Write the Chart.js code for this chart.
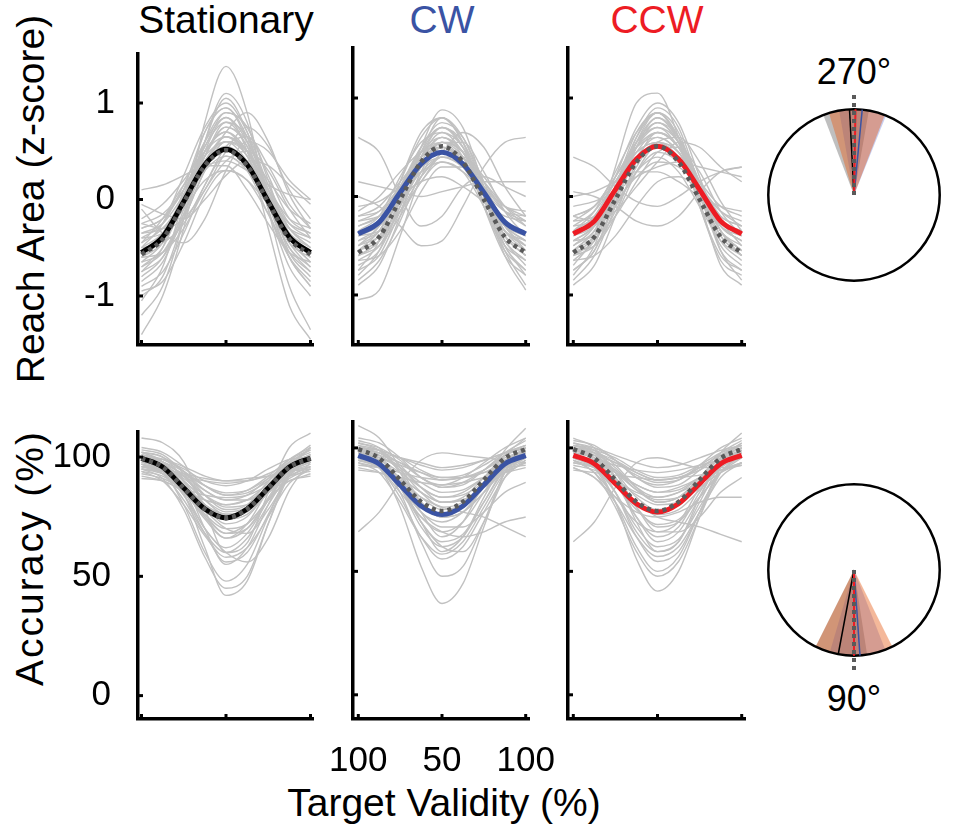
<!DOCTYPE html>
<html>
<head>
<meta charset="utf-8">
<title>Reach area and accuracy by target validity</title>
<script src="https://cdn.jsdelivr.net/npm/chart.js@4.4.0/dist/chart.umd.min.js"></script>
<style>
  body { margin: 0; background: #fff; }
  #fig { position: relative; width: 954px; height: 839px; overflow: hidden;
         font-family: "Liberation Sans", Arial, sans-serif; }
  .panel { position: absolute; }
  .lbl { position: absolute; transform: translate(-50%, -50%); line-height: 1;
         white-space: nowrap; color: #000; }
  .rot { transform: translate(-50%, -50%) rotate(-90deg); }
</style>
</head>
<body>
<div id="fig">
  <div class="lbl" style="left:226px;top:19px;font-size:39px">Stationary</div>
  <div class="lbl" style="left:442px;top:19px;font-size:39px;color:#3a53a4">CW</div>
  <div class="lbl" style="left:657px;top:19px;font-size:39px;color:#ed1c24">CCW</div>
  <div class="lbl rot" style="left:30px;top:199px;font-size:39px">Reach Area (z-score)</div>
  <div class="lbl rot" style="left:29px;top:558px;font-size:39px;letter-spacing:2px">Accuracy (%)</div>
  <div class="lbl" style="left:444px;top:802px;font-size:39px">Target Validity (%)</div>
  <div class="lbl" style="left:854px;top:72px;font-size:36px">270°</div>
  <div class="lbl" style="left:854px;top:699px;font-size:36px">90°</div>
</div>
<script>
/* ================= DATA ================= */
// x positions along the validity cycle (100 -> 50 -> 100)
const xPoints = [0, 0.125, 0.25, 0.375, 0.5, 0.625, 0.75, 0.875, 1];
const validityTickPos = [0, 0.5, 1];
const validityTicks = ["100", "50", "100"];
const reachTicks = [-1, 0, 1];
const accTicks = [0, 50, 100];

// group fits (z-score)
const reachOverall    = [-0.57, -0.41, -0.03, 0.35, 0.51, 0.35, -0.03, -0.41, -0.57];
const reachStationary = [-0.55, -0.39, -0.02, 0.36, 0.52, 0.36, -0.02, -0.39, -0.55];
const reachCW         = [-0.38, -0.26, 0.04, 0.33, 0.45, 0.33, 0.04, -0.26, -0.38];
const reachCCW        = [-0.38, -0.25, 0.07, 0.38, 0.51, 0.38, 0.07, -0.25, -0.38];

// group fits (accuracy %)
const accOverall    = [99.5, 95.8, 87, 78.2, 74.5, 78.2, 87, 95.8, 99.5];
const accStationary = [99.5, 95.8, 87, 78.2, 74.5, 78.2, 87, 95.8, 99.5];
const accCW         = [97, 93.5, 85, 76.5, 73, 76.5, 85, 93.5, 97];
const accCCW        = [97, 93.6, 85.5, 77.4, 74, 77.4, 85.5, 93.6, 97];

// individual fits, reach area
const reachStatSubjects = [
  [-0.55, -0.35, 0.05, 0.55, 0.80, 0.55, 0.05, -0.35, -0.55],
  [-0.80, -0.60, -0.10, 0.60, 1.05, 0.70, 0.00, -0.50, -0.75],
  [-0.30, -0.20, 0.10, 0.40, 0.55, 0.40, 0.10, -0.20, -0.30],
  [-1.20, -0.90, -0.20, 0.80, 1.38, 0.90, -0.10, -0.90, -1.35],
  [0.10, 0.15, 0.25, 0.35, 0.40, 0.30, 0.15, 0.05, 0.00],
  [-0.70, -0.50, 0.00, 0.60, 0.90, 0.75, 0.20, -0.40, -0.65],
  [-0.40, -0.35, -0.10, 0.20, 0.30, 0.20, -0.05, -0.30, -0.40],
  [-1.00, -0.80, -0.20, 0.50, 0.85, 0.50, -0.30, -1.10, -1.45],
  [-1.40, -1.00, -0.30, 0.60, 1.10, 0.80, 0.00, -0.60, -0.90],
  [-0.10, -0.35, -0.45, -0.20, 0.30, 0.60, 0.50, 0.20, 0.00],
  [-0.60, -0.55, -0.30, 0.10, 0.40, 0.50, 0.30, -0.10, -0.40],
  [-0.50, -0.25, 0.25, 0.75, 1.00, 0.70, 0.15, -0.30, -0.50],
  [-0.90, -0.75, -0.35, 0.15, 0.45, 0.30, -0.15, -0.60, -0.85],
  [-0.20, -0.05, 0.20, 0.50, 0.65, 0.50, 0.20, -0.10, -0.25],
  [-0.65, -0.55, -0.20, 0.30, 0.60, 0.50, 0.10, -0.35, -0.60],
  [-0.35, -0.30, -0.05, 0.35, 0.70, 0.90, 0.60, 0.05, -0.30],
  [-0.75, -0.50, 0.10, 0.70, 0.95, 0.60, -0.10, -0.70, -1.00],
  [-0.45, -0.20, 0.15, 0.35, 0.35, 0.10, -0.25, -0.55, -0.65],
  [-0.95, -0.85, -0.45, 0.05, 0.30, 0.20, -0.15, -0.55, -0.75],
  [-0.25, -0.30, -0.20, 0.10, 0.50, 0.75, 0.55, 0.10, -0.20],
  [-0.60, -0.40, 0.05, 0.50, 0.70, 0.45, 0.00, -0.40, -0.55],
  [-0.05, -0.15, -0.20, 0.00, 0.25, 0.40, 0.35, 0.15, -0.05],
  [-1.05, -0.70, 0.00, 0.70, 0.95, 0.65, 0.05, -0.55, -0.80],
  [-0.50, -0.45, -0.25, 0.15, 0.55, 0.65, 0.35, -0.05, -0.30],
  [-0.45, -0.30, 0.00, 0.40, 0.65, 0.45, 0.00, -0.35, -0.50],
  [-0.70, -0.55, -0.15, 0.35, 0.65, 0.50, 0.00, -0.45, -0.70],
  [-0.35, -0.25, 0.05, 0.45, 0.75, 0.60, 0.15, -0.25, -0.40],
  [-0.60, -0.45, -0.05, 0.45, 0.80, 0.65, 0.10, -0.40, -0.65],
  [-0.85, -0.65, -0.15, 0.45, 0.75, 0.55, -0.05, -0.60, -0.90],
  [-0.25, -0.15, 0.10, 0.45, 0.60, 0.40, 0.05, -0.25, -0.35],
  [-0.55, -0.40, -0.05, 0.30, 0.45, 0.30, -0.05, -0.40, -0.55],
  [-0.40, -0.25, 0.15, 0.60, 0.85, 0.60, 0.10, -0.30, -0.45],
  [-0.75, -0.60, -0.20, 0.30, 0.60, 0.45, -0.05, -0.50, -0.70],
  [-0.30, -0.20, 0.10, 0.55, 0.90, 0.75, 0.25, -0.20, -0.35],
  [-0.65, -0.45, 0.00, 0.50, 0.70, 0.50, 0.00, -0.45, -0.60],
  [-0.50, -0.35, 0.00, 0.40, 0.60, 0.50, 0.10, -0.30, -0.50]
];
const reachCWSubjects = [
  [-0.40, -0.25, 0.10, 0.50, 0.70, 0.50, 0.10, -0.25, -0.40],
  [-0.60, -0.45, -0.05, 0.45, 0.80, 0.60, 0.10, -0.40, -0.60],
  [0.60, 0.45, 0.00, -0.30, -0.20, 0.10, 0.20, 0.10, 0.00],
  [-0.90, -0.70, -0.20, 0.40, 0.70, 0.50, -0.10, -0.60, -0.80],
  [-0.20, -0.15, 0.05, 0.25, 0.35, 0.25, 0.05, -0.15, -0.20],
  [-0.50, -0.40, -0.10, 0.30, 0.55, 0.55, 0.25, -0.15, -0.40],
  [-0.70, -0.55, -0.10, 0.50, 0.88, 0.70, 0.10, -0.50, -0.75],
  [-0.30, -0.20, 0.00, 0.15, 0.20, 0.10, -0.05, -0.20, -0.25],
  [-0.55, -0.35, 0.05, 0.40, 0.55, 0.40, 0.00, -0.45, -0.70],
  [-1.05, -0.95, -0.40, 0.20, 0.50, 0.35, 0.00, -0.35, -0.50],
  [-0.10, -0.05, 0.10, 0.30, 0.40, 0.30, 0.10, -0.10, -0.15],
  [-0.45, -0.30, 0.15, 0.60, 0.80, 0.55, 0.00, -0.55, -0.90],
  [-0.65, -0.60, -0.35, 0.05, 0.30, 0.30, 0.05, -0.30, -0.55],
  [-0.35, -0.20, 0.20, 0.55, 0.65, 0.45, 0.05, -0.30, -0.45],
  [0.15, 0.10, 0.05, 0.00, 0.05, 0.10, 0.15, 0.15, 0.15],
  [-0.80, -0.55, 0.00, 0.45, 0.60, 0.40, -0.10, -0.55, -0.75],
  [-0.25, -0.20, -0.05, 0.20, 0.45, 0.65, 0.50, 0.10, -0.20],
  [-0.50, -0.30, 0.10, 0.45, 0.55, 0.35, -0.05, -0.35, -0.45],
  [-0.60, -0.50, -0.20, 0.15, 0.35, 0.25, -0.10, -0.50, -0.65],
  [-0.15, 0.00, 0.25, 0.45, 0.50, 0.35, 0.10, -0.10, -0.20],
  [-0.75, -0.45, 0.15, 0.65, 0.80, 0.55, 0.00, -0.60, -0.95],
  [-0.40, -0.35, -0.15, 0.15, 0.40, 0.40, 0.20, -0.10, -0.30],
  [0.00, -0.10, -0.30, -0.50, -0.45, -0.10, 0.30, 0.55, 0.60],
  [-0.85, -0.65, -0.25, 0.25, 0.55, 0.45, 0.05, -0.40, -0.60],
  [-0.45, -0.35, 0.00, 0.40, 0.60, 0.45, 0.05, -0.35, -0.50],
  [-0.65, -0.50, -0.10, 0.35, 0.60, 0.45, 0.00, -0.45, -0.65],
  [-0.30, -0.20, 0.10, 0.40, 0.55, 0.45, 0.15, -0.15, -0.30],
  [-0.55, -0.40, 0.00, 0.45, 0.70, 0.55, 0.10, -0.35, -0.55],
  [-0.20, -0.10, 0.15, 0.40, 0.50, 0.40, 0.15, -0.10, -0.25],
  [-0.75, -0.60, -0.15, 0.30, 0.55, 0.45, 0.00, -0.50, -0.80],
  [-0.35, -0.25, 0.05, 0.35, 0.45, 0.30, 0.00, -0.30, -0.40],
  [-0.50, -0.35, 0.05, 0.50, 0.75, 0.60, 0.15, -0.30, -0.50],
  [-0.40, -0.30, -0.05, 0.25, 0.40, 0.30, 0.00, -0.30, -0.45],
  [-0.60, -0.45, -0.05, 0.40, 0.65, 0.50, 0.05, -0.40, -0.60],
  [-0.25, -0.15, 0.10, 0.35, 0.45, 0.35, 0.10, -0.15, -0.25],
  [-0.55, -0.45, -0.15, 0.20, 0.40, 0.30, -0.05, -0.40, -0.55]
];
const reachCCWSubjects = [
  [-0.45, -0.30, 0.10, 0.55, 0.75, 0.55, 0.10, -0.30, -0.45],
  [-0.70, -0.40, 0.30, 0.95, 1.05, 0.60, -0.10, -0.60, -0.75],
  [0.40, 0.30, 0.10, -0.05, -0.10, 0.00, 0.15, 0.25, 0.30],
  [-0.85, -0.60, -0.10, 0.50, 0.80, 0.55, -0.05, -0.70, -0.90],
  [-0.20, -0.10, 0.15, 0.40, 0.50, 0.40, 0.15, -0.10, -0.20],
  [-0.55, -0.50, -0.20, 0.25, 0.55, 0.60, 0.35, -0.05, -0.35],
  [-0.35, -0.15, 0.25, 0.65, 0.85, 0.60, 0.15, -0.30, -0.45],
  [-0.60, -0.45, -0.10, 0.25, 0.40, 0.25, -0.10, -0.45, -0.60],
  [-0.10, -0.05, 0.05, 0.20, 0.30, 0.35, 0.30, 0.25, 0.20],
  [-0.75, -0.55, 0.00, 0.60, 0.90, 0.70, 0.10, -0.55, -0.85],
  [-0.30, -0.25, -0.05, 0.20, 0.35, 0.30, 0.10, -0.15, -0.30],
  [-0.50, -0.30, 0.20, 0.70, 0.95, 0.75, 0.20, -0.35, -0.55],
  [-0.65, -0.60, -0.40, -0.10, 0.15, 0.20, 0.05, -0.25, -0.50],
  [-0.40, -0.20, 0.15, 0.45, 0.55, 0.40, 0.05, -0.30, -0.40],
  [0.00, 0.05, 0.15, 0.25, 0.25, 0.15, 0.00, -0.10, -0.15],
  [-0.90, -0.70, -0.20, 0.35, 0.65, 0.50, 0.00, -0.50, -0.70],
  [-0.20, -0.25, -0.15, 0.10, 0.35, 0.55, 0.50, 0.30, 0.15],
  [-0.55, -0.35, 0.05, 0.45, 0.65, 0.50, 0.10, -0.35, -0.55],
  [-0.45, -0.40, -0.20, 0.15, 0.45, 0.50, 0.25, -0.15, -0.40],
  [0.05, 0.00, -0.10, -0.25, -0.30, -0.20, 0.05, 0.25, 0.30],
  [-0.80, -0.50, 0.10, 0.65, 0.85, 0.55, -0.10, -0.65, -0.80],
  [-0.35, -0.30, -0.10, 0.25, 0.45, 0.35, 0.05, -0.25, -0.35],
  [-0.60, -0.40, 0.05, 0.50, 0.75, 0.60, 0.15, -0.35, -0.60],
  [-0.25, -0.10, 0.20, 0.55, 0.70, 0.50, 0.10, -0.25, -0.35],
  [-0.45, -0.30, 0.05, 0.50, 0.70, 0.55, 0.10, -0.30, -0.45],
  [-0.65, -0.45, 0.00, 0.50, 0.75, 0.55, 0.05, -0.45, -0.65],
  [-0.30, -0.15, 0.15, 0.50, 0.65, 0.50, 0.15, -0.20, -0.30],
  [-0.55, -0.40, 0.00, 0.40, 0.60, 0.45, 0.05, -0.35, -0.55],
  [-0.75, -0.55, -0.05, 0.55, 0.85, 0.65, 0.05, -0.55, -0.75],
  [-0.20, -0.10, 0.20, 0.50, 0.60, 0.45, 0.10, -0.15, -0.25],
  [-0.50, -0.35, 0.05, 0.55, 0.80, 0.60, 0.10, -0.35, -0.50],
  [-0.40, -0.30, 0.00, 0.35, 0.55, 0.45, 0.10, -0.25, -0.40],
  [-0.60, -0.50, -0.15, 0.30, 0.55, 0.45, 0.05, -0.40, -0.60],
  [-0.35, -0.20, 0.15, 0.45, 0.55, 0.40, 0.05, -0.25, -0.35],
  [-0.55, -0.35, 0.10, 0.60, 0.85, 0.60, 0.05, -0.40, -0.60],
  [-0.25, -0.20, 0.05, 0.35, 0.50, 0.40, 0.10, -0.20, -0.30]
];

// individual fits, accuracy
const accStatSubjects = [
  [100, 99, 95, 90, 88, 90, 95, 99, 100],
  [97, 93, 82, 68, 60, 66, 80, 93, 98],
  [102, 100, 90, 70, 55, 62, 80, 97, 103],
  [95, 94, 92, 90, 89, 90, 92, 94, 95],
  [99, 96, 85, 62, 42, 48, 72, 94, 104],
  [92, 90, 86, 82, 80, 82, 86, 90, 93],
  [103, 101, 93, 80, 72, 75, 86, 98, 105],
  [98, 94, 80, 60, 48, 55, 75, 93, 100],
  [96, 95, 93, 91, 90, 91, 92, 94, 96],
  [100, 97, 88, 75, 66, 70, 83, 96, 101],
  [94, 90, 80, 67, 58, 62, 75, 89, 95],
  [101, 98, 92, 84, 79, 80, 87, 96, 100],
  [108, 106, 98, 78, 60, 64, 85, 104, 110],
  [97, 94, 86, 74, 66, 72, 86, 96, 99],
  [93, 91, 87, 84, 83, 84, 88, 92, 94],
  [99, 97, 90, 78, 70, 68, 78, 92, 100],
  [96, 93, 84, 70, 60, 56, 66, 86, 98],
  [104, 102, 96, 88, 84, 86, 92, 99, 103],
  [95, 91, 78, 58, 45, 50, 72, 92, 97],
  [100, 99, 96, 92, 90, 90, 93, 97, 100],
  [98, 95, 88, 80, 76, 78, 85, 94, 99],
  [91, 90, 85, 75, 68, 72, 82, 90, 92],
  [102, 98, 86, 70, 62, 68, 82, 96, 104],
  [96, 95, 92, 86, 82, 82, 86, 92, 96],
  [99, 97, 91, 84, 80, 82, 89, 96, 100],
  [101, 99, 94, 86, 82, 84, 91, 98, 102],
  [97, 95, 89, 80, 74, 76, 85, 94, 98],
  [98, 96, 90, 82, 77, 79, 87, 95, 99],
  [95, 93, 88, 80, 75, 77, 85, 92, 96],
  [100, 98, 92, 82, 76, 78, 88, 97, 101],
  [96, 94, 88, 76, 68, 70, 82, 94, 98],
  [102, 100, 94, 84, 78, 80, 90, 99, 104],
  [94, 92, 86, 76, 70, 72, 82, 91, 95],
  [99, 97, 93, 88, 85, 86, 91, 97, 100],
  [97, 94, 84, 68, 56, 60, 76, 93, 99],
  [100, 98, 94, 88, 84, 85, 90, 97, 101]
];
const accCWSubjects = [
  [100, 98, 92, 84, 80, 82, 88, 95, 98],
  [96, 92, 80, 64, 55, 60, 74, 88, 95],
  [104, 102, 96, 88, 85, 88, 94, 100, 104],
  [66, 74, 86, 95, 98, 97, 96, 95, 94],
  [98, 94, 82, 62, 48, 52, 70, 90, 100],
  [93, 92, 90, 88, 87, 88, 90, 92, 93],
  [101, 97, 86, 70, 58, 64, 80, 94, 100],
  [97, 92, 76, 52, 37, 45, 68, 90, 98],
  [99, 98, 96, 94, 92, 93, 95, 98, 100],
  [95, 92, 84, 74, 68, 68, 74, 82, 86],
  [102, 99, 90, 78, 72, 76, 86, 97, 104],
  [92, 90, 86, 80, 76, 74, 72, 68, 64],
  [99, 95, 84, 68, 60, 64, 78, 92, 99],
  [97, 96, 93, 90, 88, 88, 90, 94, 97],
  [94, 90, 78, 64, 57, 62, 76, 90, 95],
  [100, 99, 96, 93, 91, 92, 95, 98, 101],
  [96, 92, 82, 72, 66, 64, 66, 70, 72],
  [103, 100, 90, 74, 64, 70, 86, 99, 108],
  [91, 90, 88, 86, 85, 86, 88, 90, 92],
  [98, 94, 84, 72, 66, 70, 82, 94, 100],
  [100, 96, 86, 74, 70, 74, 84, 94, 97],
  [95, 93, 88, 82, 78, 79, 84, 90, 94],
  [109, 104, 92, 78, 72, 74, 82, 92, 96],
  [97, 94, 85, 70, 60, 58, 70, 88, 98],
  [98, 96, 92, 86, 82, 83, 88, 94, 98],
  [100, 98, 94, 88, 84, 86, 91, 97, 100],
  [96, 94, 88, 80, 75, 77, 84, 92, 96],
  [99, 97, 91, 82, 76, 78, 86, 95, 99],
  [94, 92, 88, 82, 78, 79, 84, 90, 94],
  [101, 99, 93, 84, 78, 80, 88, 97, 101],
  [97, 95, 90, 84, 80, 81, 86, 93, 97],
  [102, 100, 95, 88, 84, 85, 91, 98, 103],
  [95, 93, 87, 78, 72, 74, 82, 91, 96],
  [98, 97, 94, 90, 87, 88, 91, 96, 99],
  [96, 93, 84, 70, 62, 65, 78, 91, 97],
  [100, 99, 96, 91, 88, 89, 93, 98, 101]
];
const accCCWSubjects = [
  [100, 97, 90, 80, 75, 78, 86, 95, 99],
  [95, 90, 76, 58, 48, 54, 72, 90, 97],
  [103, 101, 95, 88, 85, 87, 93, 100, 104],
  [92, 88, 80, 74, 72, 74, 78, 80, 80],
  [62, 70, 84, 94, 96, 94, 92, 92, 93],
  [98, 93, 78, 55, 42, 50, 72, 92, 100],
  [96, 95, 93, 91, 90, 91, 93, 95, 96],
  [101, 98, 88, 72, 62, 66, 80, 95, 102],
  [97, 92, 78, 60, 50, 56, 74, 92, 98],
  [99, 98, 95, 90, 87, 88, 92, 97, 100],
  [94, 92, 86, 78, 72, 70, 68, 65, 62],
  [102, 99, 90, 76, 66, 70, 84, 98, 106],
  [93, 91, 87, 82, 80, 82, 86, 91, 94],
  [100, 95, 82, 64, 54, 58, 74, 92, 100],
  [96, 94, 90, 85, 82, 84, 88, 94, 97],
  [98, 96, 88, 76, 68, 70, 80, 90, 94],
  [104, 100, 88, 70, 58, 62, 80, 96, 102],
  [91, 90, 89, 88, 87, 88, 89, 91, 93],
  [99, 96, 86, 72, 64, 68, 82, 94, 98],
  [95, 90, 80, 70, 66, 66, 72, 82, 88],
  [101, 100, 97, 94, 92, 93, 96, 99, 101],
  [97, 93, 82, 66, 58, 62, 78, 93, 99],
  [92, 88, 78, 64, 56, 60, 74, 88, 94],
  [100, 98, 92, 84, 80, 82, 88, 96, 100],
  [98, 96, 91, 85, 82, 83, 88, 94, 98],
  [100, 98, 94, 89, 86, 87, 92, 97, 100],
  [96, 93, 86, 78, 73, 75, 83, 92, 96],
  [99, 97, 91, 83, 78, 80, 87, 95, 99],
  [94, 92, 87, 81, 77, 78, 84, 90, 94],
  [101, 99, 93, 84, 78, 80, 88, 97, 101],
  [97, 95, 90, 83, 79, 80, 86, 93, 97],
  [102, 100, 95, 88, 84, 85, 91, 98, 103],
  [95, 92, 85, 75, 69, 71, 80, 90, 96],
  [98, 97, 94, 90, 87, 88, 91, 96, 99],
  [96, 92, 82, 68, 60, 63, 76, 90, 97],
  [100, 99, 96, 91, 88, 89, 93, 98, 101]
];

// phase of the fits (degrees, 90 = down, 270 = up), order: Stationary, CW, CCW
const phaseConditions = ["Stationary", "CW", "CCW"];
const reachPhase     = [267, 275.5, 271];
const reachPhaseLow  = [249, 260, 253];
const reachPhaseHigh = [280, 292, 291];
const reachPhaseRef  = 270;
const accPhase     = [100.6, 86, 90];
const accPhaseLow  = [81.2, 68.6, 63.4];
const accPhaseHigh = [116.6, 106.4, 116.6];
const accPhaseRef  = 90;

/* ================= STYLE / LAYOUT ================= */
const FONT = "'Liberation Sans', Arial, sans-serif";
const COND_COLORS = ["#000000", "#3a53a4", "#ed1c24"];
const WEDGE_COLORS = ["rgba(128,128,128,0.5)", "rgba(70,90,200,0.3)", "rgba(231,98,31,0.45)"];
const GREY_LINE = "#c1c1c1";
const DOT_LINE = "#5a5a5a";

const Y_W = 100, PAD_TOP = 30, PAD_RIGHT = 40, X_H = 60;
const COLS = [
  { axis: 138, zero: 141.5, one: 310.5, end: 313 },
  { axis: 353, zero: 358.3, one: 525.7, end: 529 },
  { axis: 568, zero: 573.3, one: 741.7, end: 745 }
];
const ROWS = [
  { top: 48, bottom: 345, min: -1.508, max: 1.508, ticks: reachTicks, pad: 15 },
  { top: 422, bottom: 719, min: -9.8, max: 110.5, ticks: accTicks, pad: 19 }
];

const fig = document.getElementById("fig");
Chart.defaults.font.family = FONT;
Chart.defaults.color = "#000";

/* ================= INWARD TICKS ================= */
const innerTicks = {
    id: "innerTicks",
    afterDraw(chart) {
        const { ctx, chartArea, scales } = chart;
        ctx.save();
        ctx.strokeStyle = "#000";
        ctx.lineWidth = 3;
        scales.y.ticks.forEach(t => {
            const py = scales.y.getPixelForValue(t.value);
            ctx.beginPath();
            ctx.moveTo(chartArea.left, py);
            ctx.lineTo(chartArea.left + 5, py);
            ctx.stroke();
        });
        scales.x.ticks.forEach(t => {
            const px = scales.x.getPixelForValue(t.value);
            ctx.beginPath();
            ctx.moveTo(px, chartArea.bottom);
            ctx.lineTo(px, chartArea.bottom - 5);
            ctx.stroke();
        });
        ctx.restore();
    }
};

function toXY(values) {
    return values.map((v, i) => ({ x: xPoints[i], y: v }));
}

function addBox(left, top, width, height) {
    const box = document.createElement("div");
    box.className = "panel";
    box.style.left = left + "px";
    box.style.top = top + "px";
    box.style.width = width + "px";
    box.style.height = height + "px";
    const canvas = document.createElement("canvas");
    box.appendChild(canvas);
    fig.appendChild(box);
    return canvas;
}

/* ================= LINE PANELS ================= */
function makeLinePanel(p) {
    const c = COLS[p.col], r = ROWS[p.row];
    const unit = c.one - c.zero;
    const canvas = addBox(c.axis - Y_W, r.top - PAD_TOP,
        Y_W + (c.end - c.axis) + PAD_RIGHT, PAD_TOP + (r.bottom - r.top) + X_H);

    const datasets = [
        { data: toXY(p.dotted), borderColor: DOT_LINE, borderWidth: 4.5, borderDash: [4, 4] },
        { data: toXY(p.mean), borderColor: p.color, borderWidth: 5 }
    ];
    p.subjects.forEach(s => datasets.push({ data: toXY(s), borderColor: GREY_LINE, borderWidth: 1.4 }));
    datasets.forEach(d => {
        d.pointRadius = 0;
        d.fill = false;
        d.cubicInterpolationMode = "monotone";
    });

    new Chart(canvas, {
        type: "line",
        data: { datasets },
        options: {
            responsive: true,
            maintainAspectRatio: false,
            animation: false,
            events: [],
            layout: { padding: { top: PAD_TOP, right: PAD_RIGHT, left: 0, bottom: 0 } },
            plugins: { legend: { display: false }, tooltip: { enabled: false } },
            scales: {
                x: {
                    type: "linear",
                    min: -(c.zero - c.axis) / unit,
                    max: 1 + (c.end - c.one) / unit,
                    afterBuildTicks: s => { s.ticks = validityTickPos.map(v => ({ value: v })); },
                    afterFit: s => { s.height = X_H; },
                    grid: { display: false },
                    border: { display: true, color: "#000", width: 3.5 },
                    ticks: {
                        display: p.xLabels,
                        autoSkip: false, maxRotation: 0, padding: 13,
                        font: { size: 35 }, color: "#000",
                        callback: (v, i) => validityTicks[i]
                    }
                },
                y: {
                    min: r.min, max: r.max,
                    afterBuildTicks: s => { s.ticks = r.ticks.map(v => ({ value: v })); },
                    afterFit: s => { s.width = Y_W; },
                    grid: { display: false },
                    border: { display: true, color: "#000", width: 3.5 },
                    ticks: {
                        display: p.col === 0,
                        padding: r.pad,
                        font: { size: 35 }, color: "#000",
                        callback: (v, i) => String(r.ticks[i])
                    }
                }
            }
        },
        plugins: [innerTicks]
    });
}

const panels = [
    { row: 0, col: 0, dotted: reachOverall, mean: reachStationary, color: COND_COLORS[0], subjects: reachStatSubjects, xLabels: false },
    { row: 0, col: 1, dotted: reachOverall, mean: reachCW, color: COND_COLORS[1], subjects: reachCWSubjects, xLabels: false },
    { row: 0, col: 2, dotted: reachOverall, mean: reachCCW, color: COND_COLORS[2], subjects: reachCCWSubjects, xLabels: false },
    { row: 1, col: 0, dotted: accOverall, mean: accStationary, color: COND_COLORS[0], subjects: accStatSubjects, xLabels: false },
    { row: 1, col: 1, dotted: accOverall, mean: accCW, color: COND_COLORS[1], subjects: accCWSubjects, xLabels: true },
    { row: 1, col: 2, dotted: accOverall, mean: accCCW, color: COND_COLORS[2], subjects: accCCWSubjects, xLabels: false }
];
panels.forEach(makeLinePanel);

/* ================= PHASE DIALS ================= */
const polarBackdrop = {
    id: "polarBackdrop",
    beforeDatasetsDraw(chart, args, o) {
        const { ctx, scales: { x, y } } = chart;
        const cx = x.getPixelForValue(0), cy = y.getPixelForValue(0);
        const rad = x.getPixelForValue(1) - cx;
        ctx.save();
        o.low.forEach((lo, i) => {
            ctx.beginPath();
            ctx.moveTo(cx, cy);
            ctx.arc(cx, cy, rad, lo * Math.PI / 180, o.high[i] * Math.PI / 180);
            ctx.closePath();
            ctx.fillStyle = WEDGE_COLORS[i];
            ctx.fill();
        });
        ctx.beginPath();
        ctx.arc(cx, cy, rad, 0, 2 * Math.PI);
        ctx.lineWidth = 2.5;
        ctx.strokeStyle = "#000";
        ctx.stroke();
        ctx.restore();
    }
};

function ray(deg, len) {
    const a = deg * Math.PI / 180;
    return [{ x: 0, y: 0 }, { x: len * Math.cos(a), y: -len * Math.sin(a) }];
}

function makeDial(centerX, centerY, phase, low, high, ref) {
    const size = 240;
    const canvas = addBox(centerX - size / 2, centerY - size / 2, size, size);
    const datasets = [
        { data: ray(ref, 1.2), borderColor: DOT_LINE, borderWidth: 4, borderDash: [4, 4] }
    ];
    [2, 1, 0].forEach(i => datasets.push({
        data: ray(phase[i], 1), borderColor: COND_COLORS[i], borderWidth: i === 2 ? 2 : 1.5
    }));
    datasets.forEach(d => { d.showLine = true; d.pointRadius = 0; d.fill = false; });

    new Chart(canvas, {
        type: "scatter",
        data: { datasets },
        options: {
            responsive: true,
            maintainAspectRatio: false,
            animation: false,
            events: [],
            layout: { padding: 0 },
            plugins: {
                legend: { display: false }, tooltip: { enabled: false },
                polarBackdrop: { low, high }
            },
            scales: {
                x: { display: false, min: -1.4, max: 1.4 },
                y: { display: false, min: -1.4, max: 1.4 }
            }
        },
        plugins: [polarBackdrop]
    });
}

makeDial(854, 195, reachPhase, reachPhaseLow, reachPhaseHigh, reachPhaseRef);
makeDial(854, 570, accPhase, accPhaseLow, accPhaseHigh, accPhaseRef);
</script>
</body>
</html>
